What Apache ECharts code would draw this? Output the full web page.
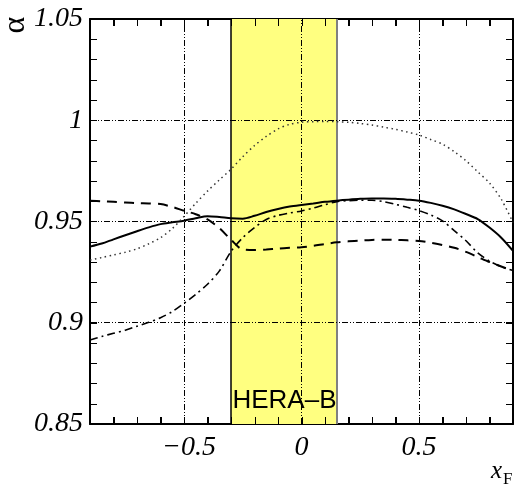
<!DOCTYPE html>
<html>
<head>
<meta charset="utf-8">
<script src="https://cdn.jsdelivr.net/npm/echarts@6/dist/echarts.min.js"></script>
<style>html,body{margin:0;padding:0;background:#fff;}#c{width:515px;height:496px;}</style>
</head>
<body>
<div id="c"></div>
<script>
const xs = [-0.9,-0.85,-0.8,-0.75,-0.7,-0.65,-0.6,-0.55,-0.5,-0.45,-0.4,-0.35,-0.3,-0.25,-0.2,-0.15,-0.1,-0.05,0,0.05,0.1,0.15,0.2,0.25,0.3,0.35,0.4,0.45,0.5,0.55,0.6,0.65,0.7,0.75,0.8,0.85,0.9];
const solidY = [0.9376,0.9391,0.9412,0.9432,0.9452,0.9471,0.9487,0.9496,0.9504,0.9516,0.9526,0.9522,0.9516,0.9514,0.9528,0.9547,0.9562,0.9574,0.9582,0.9589,0.9597,0.9603,0.9608,0.9612,0.9614,0.9614,0.9612,0.9608,0.9603,0.9592,0.9578,0.9560,0.9537,0.9512,0.9470,0.9420,0.9355];
const dashedY = [0.9603,0.9600,0.9597,0.9594,0.9591,0.9589,0.9586,0.9572,0.9553,0.9536,0.9510,0.9468,0.9410,0.9362,0.9359,0.9362,0.9366,0.9370,0.9373,0.9380,0.9389,0.9397,0.9402,0.9406,0.9409,0.9410,0.9409,0.9407,0.9404,0.9395,0.9384,0.9370,0.9350,0.9325,0.9300,0.9278,0.9255];
const dashDotY = [0.8915,0.8932,0.8948,0.8963,0.8983,0.9002,0.9025,0.9055,0.9096,0.9140,0.9190,0.9255,0.9352,0.9420,0.9470,0.9510,0.9530,0.9542,0.9552,0.9566,0.9583,0.9598,0.9603,0.9605,0.9605,0.9598,0.9585,0.9570,0.9554,0.9532,0.9503,0.9455,0.9405,0.9345,0.9305,0.9277,0.9258];
const dottedY = [0.9310,0.9322,0.9335,0.9348,0.9365,0.9390,0.9420,0.9465,0.9525,0.9590,0.9650,0.9705,0.9758,0.9820,0.9875,0.9920,0.9957,0.9980,0.9990,0.9993,0.9994,0.9993,0.9990,0.9984,0.9976,0.9966,0.9955,0.9942,0.9927,0.9905,0.9882,0.9845,0.9800,0.9745,0.9690,0.9610,0.9495];

const xRange = [-0.9, 0.9];
const yRange = [0.85, 1.05];
const xTickVals = [-0.5, 0, 0.5];
const xTickLabels = ['\u22120.5', '0', '0.5'];
const yTickVals = [0.85, 0.9, 0.95, 1, 1.05];
const yTickLabels = ['0.85', '0.9', '0.95', '1', '1.05'];
const xMinorTicks = [-0.8,-0.7,-0.6,-0.5,-0.4,-0.3,-0.2,-0.1,0,0.1,0.2,0.3,0.4,0.5,0.6,0.7,0.8];
const yMinorTicks = [0.86,0.87,0.88,0.89,0.9,0.91,0.92,0.93,0.94,0.95,0.96,0.97,0.98,0.99,1,1.01,1.02,1.03,1.04];
const gridX = [-0.5, 0, 0.5];
const gridY = [0.9, 0.95, 1];
const bandRange = [-0.3, 0.155];
const bandLabel = 'HERA\u2013B';

const TICK_LEN = 7;
const pair = ys => xs.map((x, i) => [x, ys[i]]);
const frame = { show: true, onZero: false, lineStyle: { color: '#000', width: 2 } };
const findLabel = (vals, labels, v) => { const i = vals.findIndex(t => Math.abs(t - v) < 1e-6); return i >= 0 ? labels[i] : ''; };
const italic = { fontFamily: 'Liberation Serif', fontStyle: 'italic', fontSize: 28, color: '#000' };

function xAxisDef(pos, showLabel) {
  return {
    type: 'value', min: xRange[0], max: xRange[1], position: pos,
    axisLine: frame,
    axisTick: { show: true, inside: true, length: TICK_LEN, customValues: xMinorTicks, lineStyle: { color: '#000', width: 1 } },
    axisLabel: showLabel ? {
      show: true, margin: 10, customValues: xTickVals,
      formatter: v => { const s = findLabel(xTickVals, xTickLabels, v); return v < 0 ? '{n|' + s + '}' : '{p|' + s + '}'; },
      rich: { n: Object.assign({ padding: [0, 0, 0, 10] }, italic), p: Object.assign({}, italic) }
    } : { show: false },
    splitLine: { show: false }
  };
}
function yAxisDef(pos, showLabel) {
  return {
    type: 'value', min: yRange[0], max: yRange[1], position: pos,
    axisLine: frame,
    axisTick: { show: true, inside: true, length: TICK_LEN, customValues: yMinorTicks, lineStyle: { color: '#000', width: 1 } },
    axisLabel: showLabel ? {
      show: true, margin: 7, customValues: yTickVals,
      formatter: v => '{p|' + findLabel(yTickVals, yTickLabels, v) + '}',
      rich: { p: Object.assign({}, italic) }
    } : { show: false },
    splitLine: { show: false }
  };
}

const titleGraphics = [
  { type: 'text', x: 16, y: 25, rotation: Math.PI / 2, z: 10,
    style: { text: '\u03b1', x: 0, y: 0, textAlign: 'center', textVerticalAlign: 'middle', font: '32px "Liberation Serif"', fill: '#000' } },
  { type: 'text', x: 491, y: 484, z: 10,
    style: { text: 'x', x: 0, y: 0, textAlign: 'left', textVerticalAlign: 'bottom', font: 'italic 25px "Liberation Serif"', fill: '#000' } },
  { type: 'text', x: 503, y: 488, z: 10,
    style: { text: 'F', x: 0, y: 0, textAlign: 'left', textVerticalAlign: 'bottom', font: '17px "Liberation Serif"', fill: '#000' } }
];

const chart = echarts.init(document.getElementById('c'), null, { renderer: 'canvas' });
chart.setOption({
  animation: false,
  backgroundColor: '#fff',
  grid: { left: 90, top: 19, right: 2, bottom: 72 },
  xAxis: [xAxisDef('bottom', true), xAxisDef('top', false)],
  yAxis: [yAxisDef('left', true), yAxisDef('right', false)],
  graphic: titleGraphics,
  series: [
    { type: 'line', data: [], z: 1, silent: true,
      markArea: { silent: true, itemStyle: { color: '#ffff80' },
        label: { show: true, position: 'insideBottom', distance: 10, formatter: bandLabel,
          fontFamily: 'Liberation Sans', fontSize: 26, color: '#000' },
        data: [[{ xAxis: bandRange[0] }, { xAxis: bandRange[1] }]] },
      markLine: { silent: true, symbol: ['none', 'none'], label: { show: false },
        data: [ { xAxis: bandRange[0], lineStyle: { color: '#000', width: 1.5, type: 'solid' } },
                { xAxis: bandRange[1], lineStyle: { color: '#808080', width: 2, type: 'solid' } } ] } },
    { type: 'line', data: [], z: 2, silent: true,
      markLine: { silent: true, symbol: ['none', 'none'], label: { show: false },
        lineStyle: { color: '#000', width: 1, type: [6, 2, 1, 2, 1, 2] },
        data: gridX.map(v => ({ xAxis: v })).concat(gridY.map(v => ({ yAxis: v }))) } },
    { name: 'solid', type: 'line', data: pair(solidY), showSymbol: false, smooth: 0.3, z: 5,
      lineStyle: { color: '#000', width: 2, type: 'solid' } },
    { name: 'dashed', type: 'line', data: pair(dashedY), showSymbol: false, smooth: 0.3, z: 5,
      lineStyle: { color: '#000', width: 2, type: [10, 7] } },
    { name: 'dashdot', type: 'line', data: pair(dashDotY), showSymbol: false, smooth: 0.3, z: 5,
      lineStyle: { color: '#000', width: 1.6, type: [8, 4, 2, 4] } },
    { name: 'dotted', type: 'line', data: pair(dottedY), showSymbol: false, smooth: 0.3, z: 5,
      lineStyle: { color: '#333', width: 1.5, type: [1.5, 3.5] } }
  ]
});

// Tick marks placed through the chart's own scales (convertToPixel)
const tickEls = [];
const seg = (x1, y1, x2, y2) => ({ type: 'line', z: 20, silent: true,
  shape: { x1, y1, x2, y2 }, style: { stroke: '#000', lineWidth: 1 } });
xMinorTicks.forEach(v => {
  const b = chart.convertToPixel({ gridIndex: 0 }, [v, yRange[0]]);
  const t = chart.convertToPixel({ gridIndex: 0 }, [v, yRange[1]]);
  const px = Math.round(b[0]) + 0.5;
  tickEls.push(seg(px, b[1], px, b[1] - TICK_LEN));
  tickEls.push(seg(px, t[1], px, t[1] + TICK_LEN));
});
yMinorTicks.forEach(v => {
  const l = chart.convertToPixel({ gridIndex: 0 }, [xRange[0], v]);
  const r = chart.convertToPixel({ gridIndex: 0 }, [xRange[1], v]);
  const py = Math.round(l[1]) + 0.5;
  tickEls.push(seg(l[0], py, l[0] + TICK_LEN, py));
  tickEls.push(seg(r[0], py, r[0] - TICK_LEN, py));
});
chart.setOption({ graphic: titleGraphics.concat(tickEls) });
</script>
</body>
</html>
